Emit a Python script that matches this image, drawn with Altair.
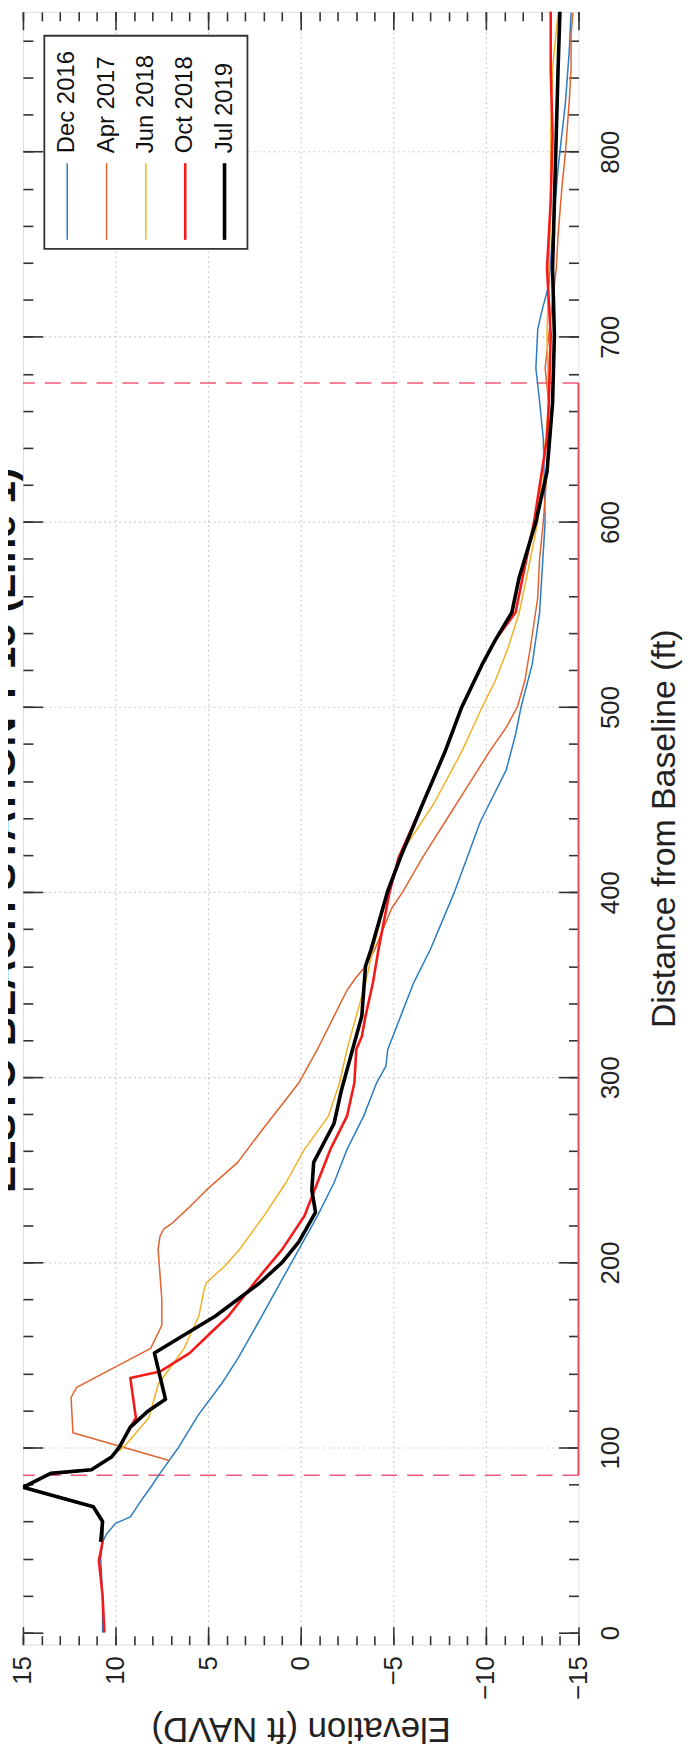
import altair as alt
import pandas as pd

# ---------------- data ----------------
surveys = ["Dec 2016", "Apr 2017", "Jun 2018", "Oct 2018", "Jul 2019"]
colors = ["#2b7cc0", "#e0622f", "#f0b224", "#f41a1a", "#000000"]
widths = [1.5, 1.5, 1.5, 2.6, 3.6]

dec16_d = [0, 20, 40, 49, 53, 59, 62.5, 73, 78.5, 86, 100, 118, 134, 148, 162, 171, 189, 207, 225, 243,
           261, 279, 297, 306, 315, 333, 351, 369, 400, 419, 438, 448, 466, 485, 500, 523, 551, 600, 645,
           665, 683, 704, 713, 728, 755, 791, 800, 827, 854, 875]
dec16_e = [10.7, 10.7, 10.8, 10.7, 10.5, 10.0, 9.2, 8.5, 8.1, 7.6, 6.6, 5.5, 4.3, 3.4, 2.6, 2.1, 1.1, 0.1,
           -0.9, -1.8, -2.5, -3.4, -4.1, -4.6, -4.7, -5.4, -6.1, -7.0, -8.3, -9.0, -9.7, -10.2, -11.1,
           -11.6, -11.9, -12.5, -12.9, -13.2, -13.1, -12.9, -12.7, -12.8, -13.0, -13.4, -13.6, -13.9,
           -14.0, -14.3, -14.5, -14.6]

apr17_d = [93, 108, 127, 132.5, 153.5, 166, 180, 207, 214, 218, 221.5, 229, 239, 254, 270, 288, 297, 315,
           333, 347, 354, 360, 369, 391, 400, 419, 438, 457, 476, 489, 500, 514, 532, 559, 580, 600, 627,
           664, 683, 701, 737, 755, 780, 800, 827, 845, 863, 875]
apr17_e = [7.1, 12.3, 12.4, 12.1, 8.1, 7.5, 7.5, 7.7, 7.6, 7.4, 6.9, 6.1, 5.1, 3.4, 2.2, 0.8, 0.1, -0.9,
           -1.8, -2.5, -3.0, -3.5, -4.0, -4.9, -5.5, -6.6, -7.8, -9.0, -10.2, -11.1, -11.7, -12.1, -12.4,
           -12.8, -12.9, -13.1, -13.3, -13.4, -13.2, -13.4, -13.8, -13.9, -14.1, -14.3, -14.5, -14.6,
           -14.6, -14.7]

jun18_d = [98, 102, 116, 134, 153.5, 171, 186, 189, 198, 207, 225, 243, 261, 279, 297, 315, 333, 351, 369,
           400, 419, 448, 476, 500, 514, 532, 551, 570, 600, 664, 701, 737, 773, 809, 845, 875]
jun18_e = [9.8, 9.4, 8.2, 7.7, 6.3, 5.5, 5.2, 5.1, 4.1, 3.3, 2.0, 0.8, -0.2, -1.5, -2.1, -2.5, -3.0, -3.5,
           -3.9, -4.7, -5.3, -7.2, -8.7, -9.8, -10.5, -11.2, -11.8, -12.2, -12.8, -13.4, -13.3, -13.4,
           -13.5, -13.5, -13.6, -13.9]

oct18_d = [0, 20, 39, 49, 60, 68, 78.5, 86, 88, 95, 100, 111, 116, 137.5, 141, 151, 162.5, 171, 189, 207,
           225, 243, 261, 279, 288, 297, 315, 322, 333, 351, 369, 400, 419, 448, 476, 500, 523, 536, 551,
           600, 645, 665, 701, 737, 773, 809, 845, 876]
oct18_e = [10.6, 10.7, 10.9, 10.7, 10.7, 11.2, 15.0, 13.5, 11.3, 10.2, 9.8, 9.2, 8.9, 9.2, 7.6, 6.0, 4.8,
           3.9, 2.5, 1.0, -0.2, -0.9, -1.6, -2.5, -2.7, -2.9, -3.0, -3.3, -3.5, -3.9, -4.2, -4.8, -5.3,
           -6.6, -7.8, -8.7, -9.8, -10.5, -11.6, -12.6, -13.3, -13.4, -13.5, -13.3, -13.5, -13.6, -13.5,
           -13.5]

jul19_d = [49, 60, 68, 78.5, 86, 88, 95, 100, 111, 120, 126, 151, 171, 189, 200, 211, 227, 239, 254, 275,
           293, 315, 333, 360, 369, 400.6, 419, 448, 476, 500, 523, 536, 551, 570, 600, 627, 664, 701, 737,
           773, 809, 845, 876]
jul19_e = [10.8, 10.7, 11.2, 15.0, 13.5, 11.3, 10.2, 9.8, 9.2, 8.2, 7.3, 7.9, 4.6, 2.2, 1.0, 0.1, -0.8,
           -0.6, -0.7, -1.8, -2.2, -2.8, -3.3, -3.5, -3.8, -4.7, -5.4, -6.6, -7.8, -8.7, -9.8, -10.5, -11.4,
           -11.8, -12.7, -13.3, -13.6, -13.7, -13.6, -13.7, -13.8, -13.9, -14.0]

series_d = [dec16_d, apr17_d, jun18_d, oct18_d, jul19_d]
series_e = [dec16_e, apr17_e, jun18_e, oct18_e, jul19_e]

dashed_dist = [85, 675]
edge_from, edge_to = [85], [675]

x_labels = [15, 10, 5, 0, -5, -10, -15]
x_grid = [10, 5, 0, -5, -10]
x_minor = list(range(-15, 16))
x_major = list(range(-15, 16, 5))
y_labels = list(range(0, 801, 100))
y_grid = list(range(100, 801, 100))
y_minor = list(range(0, 861, 20))
y_major = list(range(0, 801, 100))

title_text = "ELSTO BEACH STATION T-15 (Line 1)"

# ---------------- chart ----------------
W, H = 558, 1640
FONT = "Liberation Sans"
x_scale = alt.Scale(domain=[-15, 15], reverse=True, nice=False, zero=False)
y_scale = alt.Scale(domain=[-6.5, 875.5], nice=False, zero=False)

frames = []
for name, d, e in zip(surveys, series_d, series_e):
    frames.append(pd.DataFrame({"survey": name, "dist": d, "elev": e, "i": range(len(d))}))
base_df = frames[-1]


def axis_layer(xaxis=None, yaxis=None):
    return alt.Chart(base_df).mark_point(opacity=0, size=1).encode(
        x=alt.X("elev:Q", scale=x_scale, axis=xaxis),
        y=alt.Y("dist:Q", scale=y_scale, axis=yaxis),
    )


def tick_axis(orient, values, size):
    return alt.Axis(orient=orient, offset=-(H if orient in ("top", "bottom") else W), values=values,
                    labels=False, domain=False, grid=False, title=None, ticks=True,
                    tickSize=size, tickWidth=1.6, tickColor="#333333")


layers = []
# grids
layers.append(axis_layer(xaxis=alt.Axis(orient="bottom", values=x_grid, labels=False, domain=False,
                                        ticks=False, title=None, grid=True, gridColor="#cfcfcf",
                                        gridDash=[2, 3], gridWidth=1.2)))
layers.append(axis_layer(yaxis=alt.Axis(orient="left", values=y_grid, labels=False, domain=False,
                                        ticks=False, title=None, grid=True, gridColor="#cfcfcf",
                                        gridDash=[2, 3], gridWidth=1.2)))
# label axes
layers.append(axis_layer(xaxis=alt.Axis(
    orient="bottom", values=x_labels, ticks=False, tickSize=0, domain=False, grid=False,
    labelAngle=270, labelAlign="right", labelBaseline="middle", labelPadding=11,
    labelFontSize=26, labelFont=FONT, labelColor="#222222", labelFlush=False, labelOverlap=False,
    title="Elevation (ft NAVD)", titleAngle=180, titleX=W / 2, titleY=84, titleAlign="center",
    titleBaseline="middle", titleFontSize=35, titleFont=FONT, titleFontWeight="normal",
    titleColor="#222222")))
layers.append(axis_layer(yaxis=alt.Axis(
    orient="right", values=y_labels, ticks=False, tickSize=0, domain=False, grid=False,
    labelAngle=270, labelAlign="center", labelBaseline="top", labelPadding=19,
    labelFontSize=26, labelFont=FONT, labelColor="#222222", labelFlush=False, labelOverlap=False,
    title="Distance from Baseline (ft)", titleAngle=270, titleX=86, titleY=H / 2, titleAlign="center",
    titleBaseline="middle", titleFontSize=34, titleFont=FONT, titleFontWeight="normal",
    titleColor="#222222")))
# inward ticks
layers.append(axis_layer(xaxis=tick_axis("top", x_minor, 9)))      # bottom edge
layers.append(axis_layer(xaxis=tick_axis("top", x_major, 18)))
layers.append(axis_layer(xaxis=tick_axis("bottom", x_minor, 9)))   # top edge
layers.append(axis_layer(xaxis=tick_axis("bottom", x_major, 18)))
layers.append(axis_layer(yaxis=tick_axis("right", y_minor, 10)))   # left edge
layers.append(axis_layer(yaxis=tick_axis("right", y_major, 20)))
layers.append(axis_layer(yaxis=tick_axis("left", y_minor, 10)))    # right edge
layers.append(axis_layer(yaxis=tick_axis("left", y_major, 20)))

# dashed reference lines
dash_df = pd.DataFrame({"dist": dashed_dist})
layers.append(alt.Chart(dash_df).mark_rule(color="#f0587a", strokeWidth=1.6, strokeDash=[16, 10]).encode(
    y=alt.Y("dist:Q", scale=y_scale, axis=None)))
edge_df = pd.DataFrame({"dist": edge_from, "dist2": edge_to, "elev": [-15]})
layers.append(alt.Chart(edge_df).mark_rule(color="#e4505e", strokeWidth=2).encode(
    x=alt.X("elev:Q", scale=x_scale, axis=None),
    y=alt.Y("dist:Q", scale=y_scale, axis=None), y2="dist2:Q"))

# profiles
for df, c, w in zip(frames, colors, widths):
    layers.append(alt.Chart(df).mark_line(color=c, strokeWidth=w, clip=True, strokeJoin="round").encode(
        x=alt.X("elev:Q", scale=x_scale, axis=None),
        y=alt.Y("dist:Q", scale=y_scale, axis=None),
        order="i:Q"))

# legend box
leg_df = pd.DataFrame({"survey": surveys})
layers.append(alt.Chart(leg_df.head(1)).mark_rect(fill="white", stroke="#333333", strokeWidth=1.8).encode(
    x=alt.value(21.5), x2=alt.value(225.5), y=alt.value(24), y2=alt.value(238)))
for i, (name, c, w) in enumerate(zip(surveys, colors, widths)):
    lx = 44.5 + 39.5 * i
    one = pd.DataFrame({"survey": [name]})
    layers.append(alt.Chart(one).mark_rule(color=c, strokeWidth=w).encode(
        x=alt.value(lx), y=alt.value(152), y2=alt.value(229)))
    layers.append(alt.Chart(one).mark_text(angle=270, align="left", baseline="middle", fontSize=24,
                                           font=FONT, color="#111111").encode(
        x=alt.value(lx), y=alt.value(142), text="survey:N"))

# title, mostly cut off at the left edge as in the reference
tdf = pd.DataFrame({"t": [title_text]})
layers.append(alt.Chart(tdf).mark_text(angle=270, align="center", baseline="alphabetic", fontSize=41,
                                       fontWeight="bold", font=FONT, color="#111111").encode(
    x=alt.value(-8), y=alt.value(822), text="t:N"))

chart = alt.layer(*layers).resolve_axis(x="independent", y="independent").properties(
    width=W, height=H,
    autosize=alt.AutoSizeParams(type="none"),
    padding={"left": 15, "top": 0, "right": 108, "bottom": 110},
).configure_view(stroke="#333333", strokeWidth=2).configure(background="white")

chart.save("out.html", embed_options={"renderer": "svg", "actions": False})
